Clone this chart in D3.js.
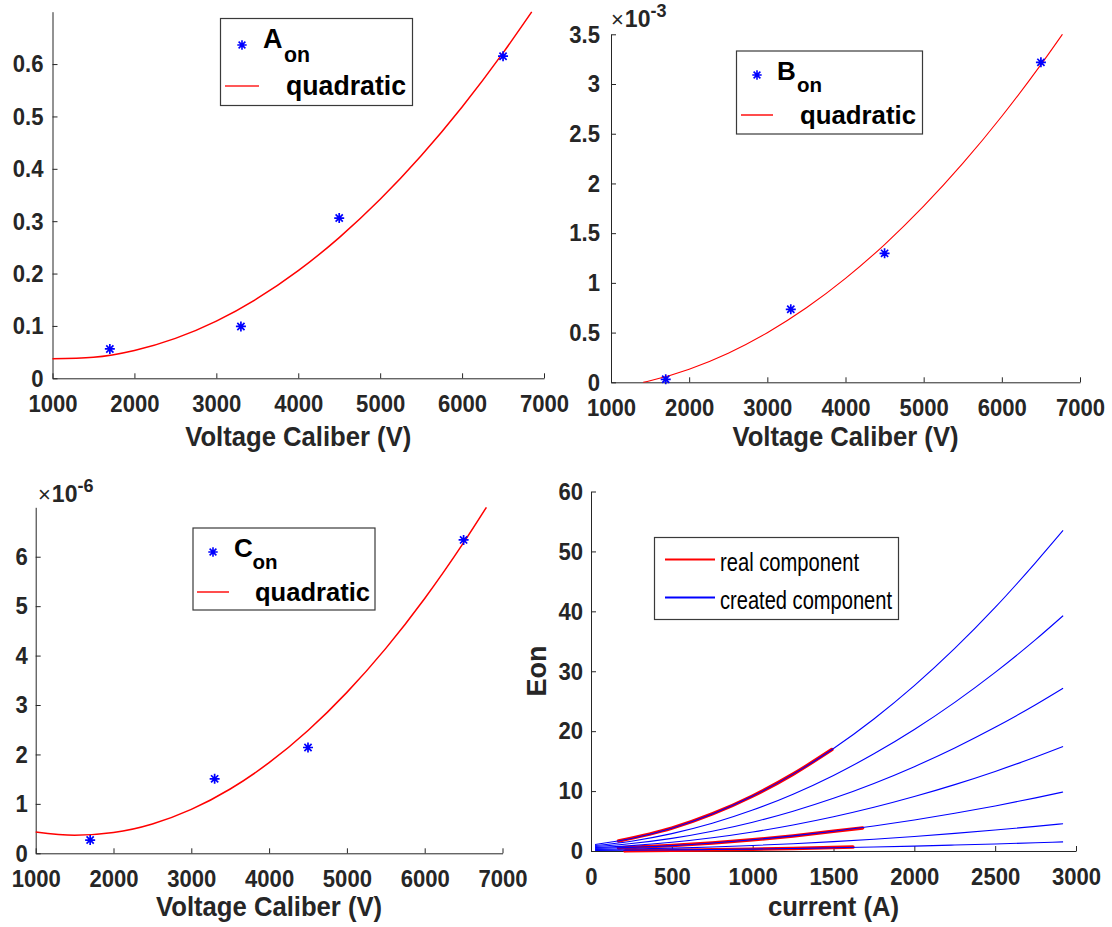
<!DOCTYPE html>
<html><head><meta charset="utf-8">
<script src="https://cdn.jsdelivr.net/npm/d3@7"></script>
<style>body{margin:0;background:#fff}svg{display:block}text{font-family:"Liberation Sans",Arial,Helvetica,sans-serif}</style>
</head><body><svg id="c" width="1112" height="927"></svg>
<script>
// ---------------- data ----------------
const voltageCaliber = [1700, 3300, 4500, 6500];
const aOn = [0.056, 0.099, 0.306, 0.615];
const bOn = [0.03e-3, 0.734e-3, 1.297e-3, 3.218e-3];
const cOn = [0.268e-6, 1.506e-6, 2.14e-6, 6.34e-6];

const fitVoltageA = [1000,1500,2000,2500,3000,3500,4000,4500,5000,5500,6000,6500,6850];
const fitA = [0.0372,0.0402,0.0532,0.0763,0.1093,0.1524,0.2055,0.2687,0.3418,0.425,0.5182,0.6214,0.6996];
const fitVoltageB = [1412,1500,2000,2500,3000,3500,4000,4500,5000,5500,6000,6500,6775];
const fitB = [0,0.0158e-3,0.1321e-3,0.2931e-3,0.4991e-3,0.7497e-3,1.0453e-3,1.3856e-3,1.771e-3,2.2008e-3,2.6757e-3,3.195e-3,3.5e-3];
const fitVoltageC = [1000,1500,2000,2500,3000,3500,4000,4500,5000,5500,6000,6500,6793];
const fitC = [0.43e-6,0.365e-6,0.42e-6,0.594e-6,0.888e-6,1.301e-6,1.833e-6,2.485e-6,3.256e-6,4.146e-6,5.156e-6,6.285e-6,7.0e-6];

const voltTicks = [1000,2000,3000,4000,5000,6000,7000];
const aTicks = [0,0.1,0.2,0.3,0.4,0.5,0.6];
const bTicks = [0,0.5e-3,1e-3,1.5e-3,2e-3,2.5e-3,3e-3,3.5e-3];
const cTicks = [0,1e-6,2e-6,3e-6,4e-6,5e-6,6e-6];
const currentTicks = [0,500,1000,1500,2000,2500,3000];
const eonTicks = [0,10,20,30,40,50,60];

const current = [25,250,500,750,1000,1250,1500,1750,2000,2250,2500,2750,2920];
const createdComponents = [
  [1.08,2.09,3.81,6.18,9.18,12.83,17.11,22.04,27.6,33.81,40.65,48.14,53.5],
  [0.91,1.64,2.90,4.63,6.83,9.49,12.62,16.22,20.28,24.81,29.81,35.28,39.27],
  [0.74,1.25,2.11,3.30,4.81,6.65,8.80,11.28,14.08,17.20,20.64,24.40,27.15],
  [0.58,0.90,1.45,2.21,3.18,4.35,5.72,7.30,9.09,11.08,13.28,15.68,17.43],
  [0.41,0.60,0.90,1.33,1.87,2.52,3.29,4.18,5.18,6.29,7.52,8.87,9.85],
  [0.26,0.34,0.48,0.67,0.92,1.22,1.57,1.97,2.43,2.94,3.50,4.11,4.56],
  [0.10,0.13,0.18,0.24,0.32,0.42,0.53,0.67,0.82,0.99,1.17,1.37,1.52]
];
const realCurrent = [
  [170,500,750,1000,1250,1490],
  [170,500,750,1000,1250,1500,1680],
  [210,500,750,1000,1250,1620]
];
const realEon = [
  [1.67,3.81,6.18,9.18,12.83,16.93],
  [0.52,0.90,1.33,1.87,2.52,3.29,3.85],
  [0.02,0.12,0.20,0.30,0.42,0.65]
];

// ---------------- drawing ----------------
const svg = d3.select("#c");
svg.append("rect").attr("width",1112).attr("height",927).attr("fill","#fff");
const INK = "#262626";
const FONT = '"Liberation Sans",Arial,Helvetica,sans-serif';

function squeeze(sel, f){
  sel.each(function(){
    const w = this.getComputedTextLength();
    d3.select(this).attr("textLength", w*f).attr("lengthAdjust","spacingAndGlyphs");
  });
}

function panel(o){
  const x = d3.scaleLinear().domain(o.xd).range([o.x0,o.x1]);
  const y = d3.scaleLinear().domain(o.yd).range([o.yb,o.yt]);
  const g = svg.append("g");
  const gx = g.append("g").attr("transform",`translate(0,${o.yb})`)
    .call(d3.axisBottom(x).tickValues(o.xt).tickSizeInner(-5).tickSizeOuter(0).tickFormat(d=>String(d)));
  gx.selectAll("text").attr("y",33.5).attr("dy","0");
  const gy = g.append("g").attr("transform",`translate(${o.x0},0)`)
    .call(d3.axisLeft(y).tickValues(o.yt2).tickSizeInner(-5).tickSizeOuter(0).tickPadding(o.pad||9).tickFormat(o.yf));
  gy.selectAll("text").attr("dy","0.34em");
  [gx,gy].forEach(a=>{
    a.attr("font-size",23).attr("font-family",FONT).attr("font-weight","bold").attr("color",INK);
    a.selectAll("path,line").attr("stroke",INK).attr("stroke-width",1);
    squeeze(a.selectAll("text"),0.96);
  });
  const xl = g.append("text").attr("x",(o.x0+o.x1)/2).attr("y",o.xlY).attr("text-anchor","middle")
    .attr("font-size",27).attr("font-weight","bold").attr("fill",INK).text(o.xl);
  squeeze(xl,0.95);
  return {g,x,y};
}

function star(g, px, py, r, sw){
  const d = r*0.72;
  g.append("path")
    .attr("d",`M${px-r},${py}H${px+r}M${px},${py-r}V${py+r}M${px-d},${py-d}L${px+d},${py+d}M${px-d},${py+d}L${px+d},${py-d}`)
    .attr("stroke","#0000ff").attr("stroke-width",sw).attr("fill","none");
}

function fitPanel(o, vals, fx, fy, lw){
  const p = panel(o);
  const line = d3.line().x(d=>p.x(d[0])).y(d=>p.y(d[1])).curve(d3.curveMonotoneX);
  p.g.append("path").datum(fx.map((v,i)=>[v,fy[i]])).attr("d",line)
    .attr("fill","none").attr("stroke","#ff0000").attr("stroke-width",lw);
  voltageCaliber.forEach((v,i)=>star(p.g,p.x(v),p.y(vals[i]),5,1.7));
  return p;
}

function legend(L){
  const g = svg.append("g");
  g.append("rect").attr("x",L.bx).attr("y",L.by).attr("width",L.bw).attr("height",L.bh)
    .attr("fill","#fff").attr("stroke","#3a3a3a").attr("stroke-width",1.2);
  star(g, L.mx, L.my, 4.7, 1.6);
  const t = g.append("text").attr("font-weight","bold").attr("fill","#000");
  t.append("tspan").attr("x",L.lx).attr("y",L.ly).attr("font-size",L.fs+1).text(L.letter);
  t.append("tspan").attr("x",L.sx).attr("y",L.sy).attr("font-size",L.fs*0.82).text("on");
  g.append("line").attr("x1",L.r1).attr("x2",L.r2).attr("y1",L.ry).attr("y2",L.ry)
    .attr("stroke","#ff2020").attr("stroke-width",1.6);
  const q = g.append("text").attr("x",L.qx).attr("y",L.qy).attr("font-size",L.fs+1).attr("font-weight","bold")
    .attr("fill","#000").text("quadratic");
  q.attr("textLength",L.qw).attr("lengthAdjust","spacingAndGlyphs");
}

function exponent(x, y, p){
  const t = svg.append("text").attr("fill",INK);
  t.append("tspan").attr("x",x).attr("y",y).attr("font-size",22).text("\u00d7");
  t.append("tspan").attr("font-size",23).attr("font-weight","bold").attr("dx",1).text("10");
  t.append("tspan").attr("font-size",18).attr("font-weight","bold").attr("dy",-10).text(p);
}

// Panel A
fitPanel({x0:52.5,x1:544,yb:378.3,yt:11.7,xd:[1000,7000],yd:[0,0.7],xt:voltTicks,yt2:aTicks,
  yf:d=>String(+d.toFixed(1)),xl:"Voltage Caliber (V)",xlY:446,pad:9}, aOn, fitVoltageA, fitA, 1.5);
legend({bx:220.5,by:18.5,bw:192,bh:87,mx:242,my:45,lx:263,ly:48,sx:284,sy:62,fs:26,
  r1:225,r2:259,ry:86,qx:286,qy:95,qw:120,letter:"A"});

// Panel B
fitPanel({x0:611,x1:1080,yb:382.3,yt:34.3,xd:[1000,7000],yd:[0,3.5e-3],xt:voltTicks,yt2:bTicks,
  yf:d=>String(+(d*1e3).toFixed(2)),xl:"Voltage Caliber (V)",xlY:446,pad:11}, bOn, fitVoltageB, fitB, 1.1);
legend({bx:736.5,by:51,bw:186,bh:83,mx:757,my:75,lx:777,ly:79.5,sx:797,sy:92,fs:25,
  r1:741,r2:773,ry:115,qx:800,qy:123.5,qw:116,letter:"B"});
exponent(611, 27, "-3");

// Panel C
fitPanel({x0:35.7,x1:502.5,yb:853.3,yt:507.3,xd:[1000,7000],yd:[0,7e-6],xt:voltTicks,yt2:cTicks,
  yf:d=>String(Math.round(d*1e6)),xl:"Voltage Caliber (V)",xlY:916,pad:8}, cOn, fitVoltageC, fitC, 1.5);
legend({bx:193,by:528,bw:182,bh:82,mx:213,my:552,lx:234,ly:556.5,sx:252.5,sy:568.5,fs:25,
  r1:197,r2:229,ry:592,qx:255,qy:600.5,qw:115,letter:"C"});
exponent(38, 502, "-6");

// Panel D
const pd = panel({x0:591,x1:1076,yb:851,yt:491.5,xd:[0,3000],yd:[0,60],xt:currentTicks,yt2:eonTicks,
  yf:d=>String(d),xl:"current (A)",xlY:916,pad:8});
const lineD = d3.line().x(d=>pd.x(d[0])).y(d=>pd.y(d[1])).curve(d3.curveMonotoneX);
realCurrent.forEach((xs,k)=>{
  pd.g.append("path").datum(xs.map((v,i)=>[v,realEon[k][i]])).attr("d",lineD)
    .attr("fill","none").attr("stroke","#ff0000").attr("stroke-width",3.5).attr("stroke-linecap","round");
});
createdComponents.forEach(vals=>{
  pd.g.append("path").datum(current.map((v,i)=>[v,vals[i]])).attr("d",lineD)
    .attr("fill","none").attr("stroke","#0000ff").attr("stroke-width",1.1);
});
svg.append("text").attr("transform","translate(546,671) rotate(-90)").attr("text-anchor","middle")
  .attr("font-size",27).attr("font-weight","bold").attr("fill",INK).text("Eon");

// Legend D
const lg = svg.append("g");
lg.append("rect").attr("x",654.5).attr("y",537.5).attr("width",244).attr("height",82)
  .attr("fill","#fff").attr("stroke","#3a3a3a").attr("stroke-width",1.2);
[["real component","#ff0000",559.5,139],["created component","#0000ff",597.5,172]].forEach(([t,c,yy,w])=>{
  lg.append("line").attr("x1",665).attr("x2",715).attr("y1",yy).attr("y2",yy).attr("stroke",c).attr("stroke-width",1.8);
  lg.append("text").attr("x",720).attr("y",yy+11.5).attr("font-size",25).attr("fill","#000")
    .attr("textLength",w).attr("lengthAdjust","spacingAndGlyphs").text(t);
});
</script></body></html>
